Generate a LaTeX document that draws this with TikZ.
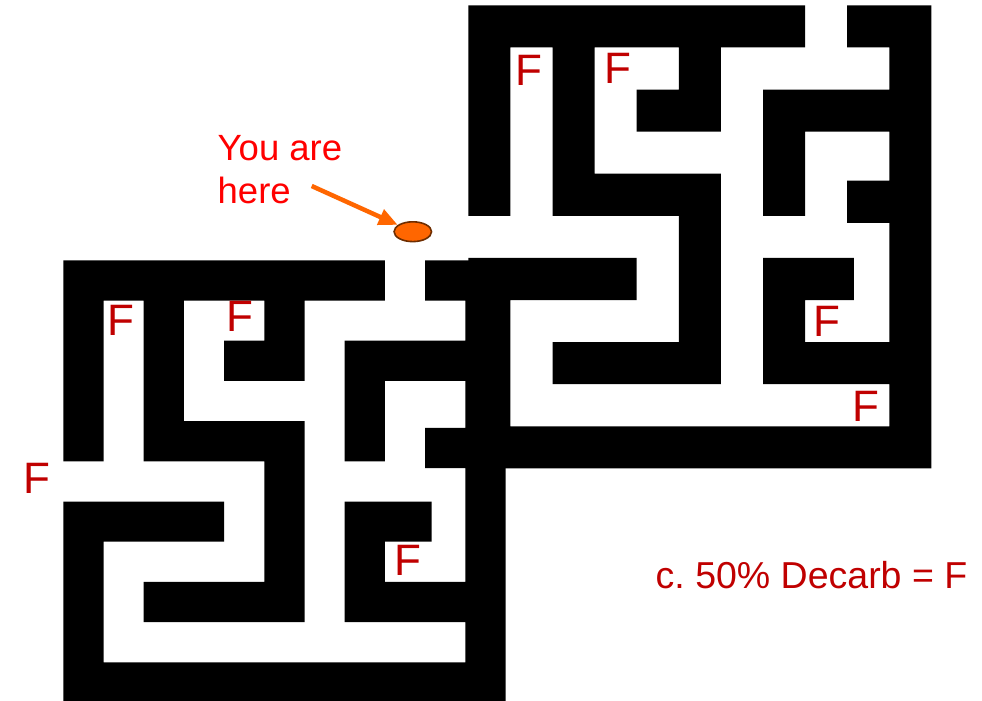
\documentclass[tikz,border=0pt]{standalone}
\usepackage{fontspec}
\setmainfont{Liberation Sans}
\usetikzlibrary{arrows.meta,shapes.geometric}
\definecolor{fred}{RGB}{192,0,0}
\definecolor{hred}{RGB}{255,0,0}
\definecolor{orng}{RGB}{255,102,0}
\definecolor{brwn}{RGB}{110,45,0}
\tikzset{
  mazepath/.style={insert path={
    (0,0) rectangle (8,1) (9,0) rectangle (11,1)
    (0,1) rectangle (1,2) (2,1) rectangle (3,2) (5,1) rectangle (6,2) (10,1) rectangle (11,2)
    (0,2) rectangle (1,3) (2,2) rectangle (3,3) (4,2) rectangle (6,3) (7,2) rectangle (11,3)
    (0,3) rectangle (1,4) (2,3) rectangle (3,4) (7,3) rectangle (8,4) (10,3) rectangle (11,4)
    (0,4) rectangle (1,5) (2,4) rectangle (6,5) (7,4) rectangle (8,5) (10,4) rectangle (11,5)
    (9,4.167) rectangle (10,5.167)
    (5,5) rectangle (6,6) (10,5) rectangle (11,6)
    (0,6) rectangle (4,7) (5,6) rectangle (6,7) (7,6) rectangle (9.16,7) (10,6) rectangle (11,7)
    (0,7) rectangle (1,8) (5,7) rectangle (6,8) (7,7) rectangle (8,8) (10,7) rectangle (11,8)
    (0,8) rectangle (1,9) (2,8) rectangle (6,9) (7,8) rectangle (11,9)
    (0,9) rectangle (1,10) (10,9) rectangle (11,10)
    (0,10) rectangle (11,11)
  }},
  fmark/.style={text=fred, inner sep=0pt, font=\fontsize{44}{44}\selectfont},
  hlabel/.style={text=hred, inner sep=0pt, anchor=base west, font=\fontsize{36.5}{43}\selectfont},
  legend/.style={text=fred, inner sep=0pt, anchor=base west, font=\fontsize{37.5}{40}\selectfont},
  pointer/.style={draw=orng, line width=4.5pt, -{Triangle[length=19pt,width=16pt]}},
  spot/.style={ellipse, fill=orng, draw=brwn, line width=1.6pt, minimum width=37.5pt, minimum height=19.8pt, inner sep=0pt}
}
\begin{document}
\begin{tikzpicture}[x=1pt,y=-1pt]
\useasboundingbox (0,0) rectangle (982,701);
\fill[white] (0,0) rectangle (982,701);
% right maze
\begin{scope}[shift={(468.3,5.3)},x=42.1pt,y=-42.1pt]
  \fill[black][mazepath];
\end{scope}
% left maze
\begin{scope}[shift={(63.3,260.3)},x=40.2pt,y=-40.2pt]
  \fill[black][mazepath];
\end{scope}
% F marks
\node[fmark] (f1) at (528.7,70.8) {F};
\node[fmark] (f2) at (618.3,68.8) {F};
\node[fmark] (f3) at (826.7,321.5) {F};
\node[fmark] (f4) at (865.5,406.5) {F};
\node[fmark] (f5) at (120.8,320) {F};
\node[fmark] (f6) at (240,316.2) {F};
\node[fmark] (f7) at (36.8,478) {F};
\node[fmark] (f8) at (408,560.5) {F};
% you are here
\node[hlabel] (you) at (217.5,160) {You are};
\node[hlabel] (herel) at (217.5,203.3) {here};
\node[spot] (here) at (412.8,231.7) {};
\coordinate (tail) at (311.7,186);
\draw[pointer] (tail) -- (here);
% legend
\node[legend] (leg) at (655.5,588.3) {c.\ 50\% Decarb = F};
\end{tikzpicture}
\end{document}
